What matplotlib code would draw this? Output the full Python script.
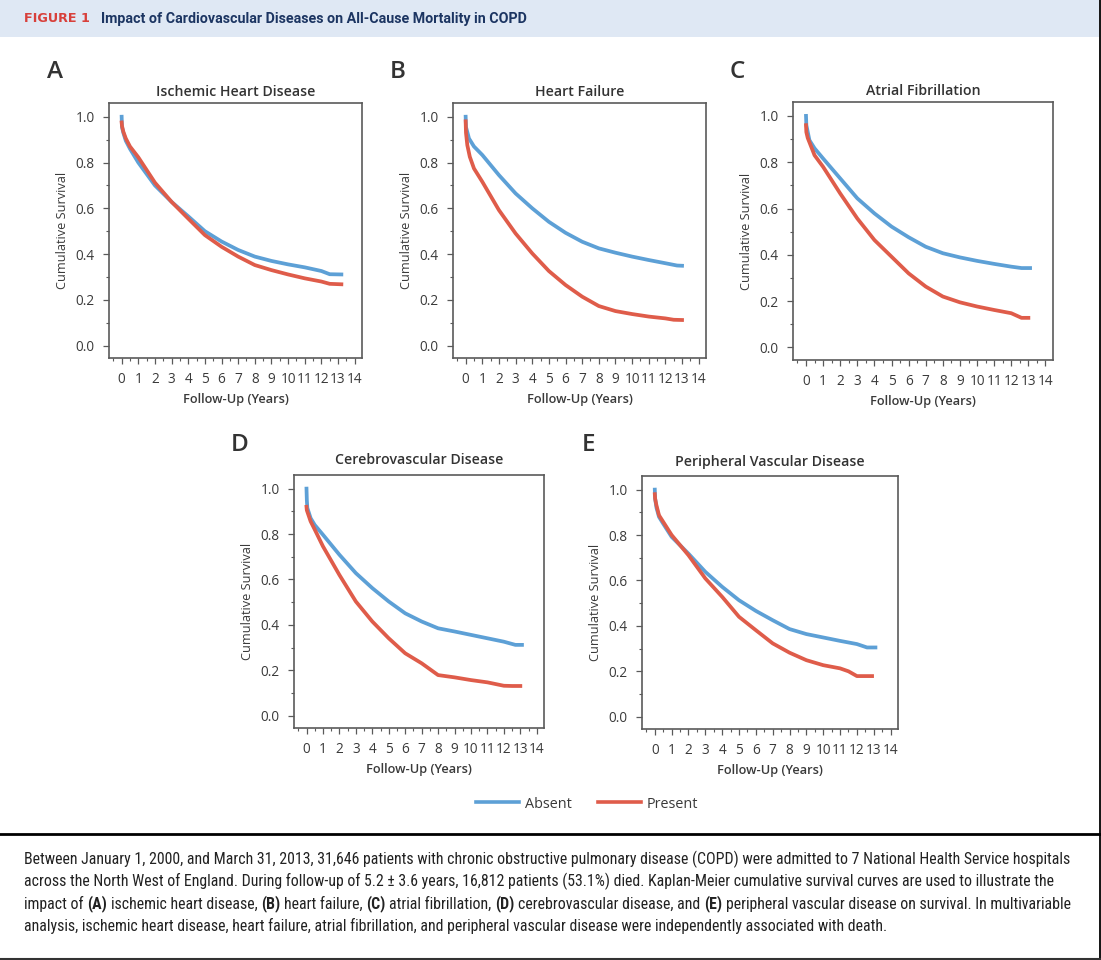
import matplotlib
matplotlib.use('Agg')
import matplotlib.pyplot as plt
from matplotlib import font_manager as fm
from matplotlib.lines import Line2D
from matplotlib.patches import Rectangle
from matplotlib.ticker import MultipleLocator

# ---------------- data ----------------
panel_letters = ["A", "B", "C", "D", "E"]
panel_titles = ["Ischemic Heart Disease", "Heart Failure", "Atrial Fibrillation",
                "Cerebrovascular Disease", "Peripheral Vascular Disease"]
x_ticks = list(range(0, 15))
y_ticks = [0.0, 0.2, 0.4, 0.6, 0.8, 1.0]
legend_labels = ["Absent", "Present"]

# Panel A – Ischemic heart disease
a_abs_t = [0, 0.02, 0.1, 0.25, 0.5, 1, 2, 3, 4, 5, 6, 7, 8, 9, 10, 11, 12, 12.5, 13.2]
a_abs_s = [1.0, 0.955, 0.93, 0.895, 0.86, 0.80, 0.70, 0.628, 0.565, 0.50, 0.455, 0.418,
           0.389, 0.37, 0.355, 0.342, 0.326, 0.312, 0.311]
a_pre_t = [0, 0.02, 0.1, 0.25, 0.5, 1, 2, 3, 4, 5, 6, 7, 8, 9, 10, 11, 12, 12.5, 13.2]
a_pre_s = [0.975, 0.96, 0.935, 0.905, 0.87, 0.823, 0.712, 0.628, 0.555, 0.483, 0.432, 0.389,
           0.352, 0.33, 0.311, 0.294, 0.28, 0.27, 0.268]

# Panel B – Heart failure
b_abs_t = [0, 0.02, 0.2, 0.5, 1, 2, 3, 4, 5, 6, 7, 8, 9, 10, 11, 12, 12.7, 13.0]
b_abs_s = [1.0, 0.955, 0.905, 0.87, 0.833, 0.745, 0.665, 0.60, 0.541, 0.493, 0.454, 0.425,
           0.406, 0.389, 0.374, 0.36, 0.35, 0.349]
b_pre_t = [0, 0.02, 0.1, 0.25, 0.5, 1, 2, 3, 4, 5, 6, 7, 8, 9, 10, 11, 12, 12.5, 13.0]
b_pre_s = [0.98, 0.93, 0.876, 0.825, 0.774, 0.716, 0.592, 0.49, 0.403, 0.326, 0.265, 0.214,
           0.173, 0.151, 0.138, 0.127, 0.119, 0.113, 0.112]

# Panel C – Atrial fibrillation
c_abs_t = [0, 0.02, 0.2, 0.5, 1, 2, 3, 4, 5, 6, 7, 8, 9, 10, 11, 12, 12.6, 13.1]
c_abs_s = [1.0, 0.96, 0.895, 0.86, 0.816, 0.73, 0.644, 0.579, 0.522, 0.476, 0.435, 0.407,
           0.389, 0.374, 0.361, 0.349, 0.343, 0.343]
c_pre_t = [0, 0.02, 0.1, 0.5, 1, 2, 3, 4, 5, 6, 7, 8, 9, 10, 11, 12, 12.6, 13.0]
c_pre_s = [0.96, 0.93, 0.905, 0.83, 0.78, 0.665, 0.557, 0.464, 0.392, 0.32, 0.263, 0.22,
           0.195, 0.177, 0.162, 0.148, 0.128, 0.128]

# Panel D – Cerebrovascular disease
d_abs_t = [0, 0.02, 0.05, 0.25, 0.5, 1, 2, 3, 4, 5, 6, 7, 8, 9, 10, 11, 12, 12.7, 13.1]
d_abs_s = [1.0, 0.95, 0.915, 0.87, 0.84, 0.797, 0.709, 0.628, 0.562, 0.503, 0.451, 0.415,
           0.385, 0.371, 0.356, 0.341, 0.326, 0.312, 0.312]
d_pre_t = [0, 0.02, 0.25, 0.5, 1, 2, 3, 4, 5, 6, 7, 8, 9, 10, 11, 12, 12.5, 13.0]
d_pre_s = [0.92, 0.905, 0.856, 0.82, 0.746, 0.62, 0.503, 0.415, 0.341, 0.275, 0.231, 0.179,
           0.169, 0.157, 0.147, 0.132, 0.131, 0.131]

# Panel E – Peripheral vascular disease
e_abs_t = [0, 0.02, 0.1, 0.25, 0.5, 1, 2, 3, 4, 5, 6, 7, 8, 9, 10, 11, 12, 12.6, 13.1]
e_abs_s = [1.0, 0.96, 0.92, 0.88, 0.85, 0.792, 0.718, 0.638, 0.572, 0.513, 0.466, 0.425,
           0.386, 0.364, 0.349, 0.334, 0.32, 0.305, 0.305]
e_pre_t = [0, 0.02, 0.1, 0.25, 0.5, 1, 2, 3, 4, 5, 6, 7, 8, 9, 10, 11, 11.5, 12, 12.9]
e_pre_s = [0.98, 0.96, 0.93, 0.887, 0.858, 0.80, 0.711, 0.609, 0.528, 0.44, 0.381, 0.323,
           0.282, 0.249, 0.227, 0.213, 0.20, 0.179, 0.179]

series = [
    (a_abs_t, a_abs_s, a_pre_t, a_pre_s),
    (b_abs_t, b_abs_s, b_pre_t, b_pre_s),
    (c_abs_t, c_abs_s, c_pre_t, c_pre_s),
    (d_abs_t, d_abs_s, d_pre_t, d_pre_s),
    (e_abs_t, e_abs_s, e_pre_t, e_pre_s),
]

header_tag = "FIGURE 1"
header_title = "Impact of Cardiovascular Diseases on All-Cause Mortality in COPD"
caption_lines = [
    [("Between January 1, 2000, and March 31, 2013, 31,646 patients with chronic obstructive "
      "pulmonary disease (COPD) were admitted to 7 National Health Service hospitals", False)],
    [("across the North West of England. During follow-up of 5.2 \u00b1 3.6 years, 16,812 patients "
      "(53.1%) died. Kaplan-Meier cumulative survival curves are used to illustrate the", False)],
    [("impact of ", False), ("(A)", True), (" ischemic heart disease, ", False), ("(B)", True),
     (" heart failure, ", False), ("(C)", True), (" atrial fibrillation, ", False), ("(D)", True),
     (" cerebrovascular disease, and ", False), ("(E)", True),
     (" peripheral vascular disease on survival. In multivariable", False)],
    [("analysis, ischemic heart disease, heart failure, atrial fibrillation, and peripheral "
      "vascular disease were independently associated with death.", False)],
]

# ---------------- styling / layout ----------------
W, H = 1101, 960
BLUE = "#5DA0D6"
RED = "#DF5C4A"
TXT = "#3a3a3a"
SPINE = "#5a5a5a"


def avail(name):
    try:
        fm.findfont(fm.FontProperties(family=name), fallback_to_default=False)
        return True
    except Exception:
        return False


PLOT_FONT = next((f for f in ["Open Sans", "Noto Sans", "Lato"] if avail(f)), "DejaVu Sans")
CAP_FONT = next((f for f in ["Liberation Sans Narrow", "Roboto Condensed", "Roboto"] if avail(f)),
                "DejaVu Sans")
HEAD_FONT = next((f for f in ["Roboto", "Open Sans"] if avail(f)), "DejaVu Sans")

plt.rcParams["font.family"] = [PLOT_FONT, "DejaVu Sans"]

fig = plt.figure(figsize=(W / 100, H / 100), dpi=100)
fig.patch.set_facecolor("white")


def fx(px):
    return px / W


def fy(py):
    return 1 - py / H


# axes boxes in pixels: left, top, right, bottom
boxes = [
    (109, 103, 362, 358),
    (453, 103, 706, 358),
    (793, 102, 1053, 360),
    (294, 475, 544, 728),
    (642, 476, 898, 729),
]
letter_pos = [(55, 72), (398, 72), (737, 72), (240, 445), (588, 445)]
title_pad = [7, 7, 7, 11, 10]

for i, (l, t, r, b) in enumerate(boxes):
    ax = fig.add_axes([fx(l), fy(b), (r - l) / W, (b - t) / H])
    at, as_, pt, ps = series[i]
    ax.plot(at, as_, color=BLUE, lw=2.7, solid_joinstyle="round", zorder=3)
    ax.plot(pt, ps, color=RED, lw=2.7, solid_joinstyle="round", zorder=4)
    ax.set_xlim(-0.76, 14.44)
    ax.set_ylim(-0.054, 1.06)
    ax.set_xticks(x_ticks)
    ax.set_xticklabels([str(v) for v in x_ticks])
    ax.set_yticks(y_ticks)
    ax.set_yticklabels([f"{v:.1f}" for v in y_ticks])
    ax.xaxis.set_minor_locator(MultipleLocator(0.5))
    ax.yaxis.set_minor_locator(MultipleLocator(0.1))
    ax.tick_params(which="major", direction="out", length=4.4, width=0.9, color=SPINE,
                   labelsize=9.8, labelcolor=TXT)
    ax.tick_params(axis="y", which="major", pad=6.0)
    ax.tick_params(axis="x", which="major", pad=5.5)
    ax.tick_params(which="minor", direction="out", length=2.4, width=0.8, color=SPINE)
    for s in ax.spines.values():
        s.set_color(SPINE)
        s.set_linewidth(1.2)
    h = b - t
    w = r - l
    ax.text(0.5, 1 + title_pad[i] / h, panel_titles[i], transform=ax.transAxes,
            ha="center", va="baseline", fontsize=10.2, fontweight="semibold", color="#333333")
    ax.set_xlabel("Follow-Up (Years)", fontsize=9.2, fontweight="semibold", color=TXT)
    ax.xaxis.set_label_coords(0.5, -35 / h)
    ax.set_ylabel("Cumulative Survival", fontsize=9.2, color=TXT)
    ax.yaxis.set_label_coords(-40 / w, 0.5)
    lx, ly = letter_pos[i]
    fig.text(fx(lx), fy(ly), panel_letters[i], fontsize=17.5, color="#333333",
             ha="center", va="center", fontweight="semibold")

# legend
handles = [Line2D([], [], color=BLUE, lw=2.6), Line2D([], [], color=RED, lw=2.6)]
fig.legend(handles, legend_labels, loc="center", bbox_to_anchor=(fx(587), fy(804)), ncol=2,
           frameon=False, fontsize=10.4, handlelength=3.0, handletextpad=0.4,
           columnspacing=1.8, labelcolor=TXT)

# header band
fig.add_artist(Rectangle((0, fy(37)), fx(1099), 37 / H, transform=fig.transFigure,
                         facecolor="#DFE8F4", edgecolor="none", zorder=0))
renderer = fig.canvas.get_renderer()
tg = fig.text(fx(24), fy(19), header_tag, family="DejaVu Sans", fontweight="bold", fontsize=8.5,
              color="#D8403B", va="center", ha="left")
wtg = tg.get_window_extent(renderer).width
tg.set_fontsize(8.5 * 66 / wtg)
ht = fig.text(fx(101), fy(19), header_title, family=HEAD_FONT, fontweight="bold", fontsize=9.5,
              color="#1C3562", va="center", ha="left")
wt = ht.get_window_extent(renderer).width
ht.set_fontsize(9.5 * 431 / wt)

# frame lines
fig.add_artist(Line2D([fx(1099.5)] * 2, [0, 1], transform=fig.transFigure, color="black", lw=1.3))
fig.add_artist(Line2D([0, fx(1100)], [fy(834)] * 2, transform=fig.transFigure, color="black", lw=2.0))
fig.add_artist(Line2D([0, fx(1100)], [fy(958.5)] * 2, transform=fig.transFigure, color="#333333", lw=1.5))

# caption with bold runs
def text_w(s, fs, bold):
    t = fig.text(0, 0, s, family=CAP_FONT, fontsize=fs, fontweight="bold" if bold else "normal")
    w = t.get_window_extent(renderer).width
    t.remove()
    return w

base_fs = 10.0
w1 = text_w(caption_lines[0][0][0], base_fs, False)
cap_fs = base_fs * 1039 / w1
space_w = text_w("a a", cap_fs, False) - text_w("aa", cap_fs, False)

line_y = [859, 881, 904, 926]
for runs, yy in zip(caption_lines, line_y):
    x = 24.0
    for s, bold in runs:
        lead = len(s) - len(s.lstrip(" "))
        trail = len(s) - len(s.rstrip(" "))
        core = s.strip(" ")
        x += lead * space_w
        t = fig.text(fx(x), fy(yy), core, family=CAP_FONT, fontsize=cap_fs,
                     fontweight="bold" if bold else "normal", color="#222222",
                     ha="left", va="center")
        x += t.get_window_extent(renderer).width + trail * space_w

fig.savefig("out.png", dpi=100, facecolor="white")
